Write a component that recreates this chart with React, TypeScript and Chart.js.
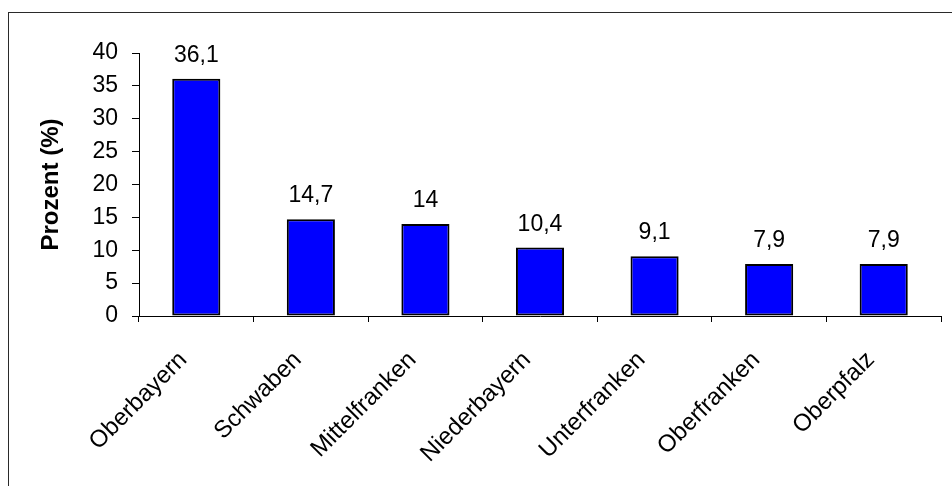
import React, { useEffect, useRef } from "react";
import { Chart, registerables } from "chart.js";

Chart.register(...registerables);

const categories = [
  "Oberbayern",
  "Schwaben",
  "Mittelfranken",
  "Niederbayern",
  "Unterfranken",
  "Oberfranken",
  "Oberpfalz",
];
const values = [36.1, 14.7, 14, 10.4, 9.1, 7.9, 7.9];
const yTicks = [0, 5, 10, 15, 20, 25, 30, 35, 40];
const yAxisTitle = "Prozent (%)";

const FONT = "Arial, 'Liberation Sans', sans-serif";

const dataLabels = {
  id: "dataLabels",
  afterDatasetsDraw(chart: any) {
    const ctx = chart.ctx;
    const meta = chart.getDatasetMeta(0);
    ctx.save();
    ctx.font = `23px ${FONT}`;
    ctx.fillStyle = "#000";
    ctx.textAlign = "center";
    ctx.textBaseline = "alphabetic";
    meta.data.forEach((bar: any, i: number) => {
      const txt = String(values[i]).replace(".", ",");
      ctx.fillText(txt, bar.x, bar.y - 17);
    });
    ctx.restore();
  },
};

export default function App() {
  const ref = useRef<HTMLCanvasElement | null>(null);

  useEffect(() => {
    if (!ref.current) return;
    const chart = new Chart(ref.current, {
      type: "bar",
      data: {
        labels: categories,
        datasets: [
          {
            data: values,
            backgroundColor: "#0000FF",
            borderColor: "#000000",
            borderWidth: 2,
            borderSkipped: false,
            categoryPercentage: 1,
            barPercentage: 0.42,
          },
        ],
      },
      options: {
        animation: false,
        responsive: false,
        devicePixelRatio: 1,
        layout: { padding: { top: 40, right: 11, left: 0, bottom: 0 } },
        plugins: {
          legend: { display: false },
          tooltip: { enabled: false },
        },
        scales: {
          x: {
            offset: true,
            grid: {
              display: true,
              drawOnChartArea: false,
              drawTicks: true,
              tickLength: 6,
              color: "#000",
              offset: true,
            },
            border: { display: true, color: "#000", width: 1 },
            ticks: {
              minRotation: 45,
              maxRotation: 45,
              autoSkip: false,
              color: "#000",
              font: { family: FONT, size: 24 },
              padding: 24,
              labelOffset: -13,
            },
            afterFit: (s: any) => {
              s.height = 170;
            },
          },
          y: {
            min: 0,
            max: 40,
            afterBuildTicks: (s: any) => {
              s.ticks = yTicks.map((v) => ({ value: v }));
            },
            ticks: {
              color: "#000",
              font: { family: FONT, size: 23 },
              padding: 14,
            },
            grid: {
              drawOnChartArea: false,
              drawTicks: true,
              tickLength: 7,
              color: "#000",
            },
            border: { display: true, color: "#000", width: 1 },
            title: {
              display: true,
              text: yAxisTitle,
              color: "#000",
              font: { family: FONT, size: 24, weight: "bold" },
              padding: { top: 28, bottom: 0 },
            },
            afterFit: (s: any) => {
              s.width = 130;
            },
          },
        },
      },
      plugins: [dataLabels],
    });
    return () => chart.destroy();
  }, []);

  return (
    <div
      style={{
        position: "absolute",
        left: 8,
        top: 12,
        width: 944,
        height: 474,
        boxSizing: "border-box",
        borderTop: "1px solid #2a2a2a",
        borderLeft: "1px solid #2a2a2a",
        overflow: "hidden",
        background: "#fff",
      }}
    >
      <canvas ref={ref} width={943} height={473} style={{ display: "block" }} />
    </div>
  );
}
